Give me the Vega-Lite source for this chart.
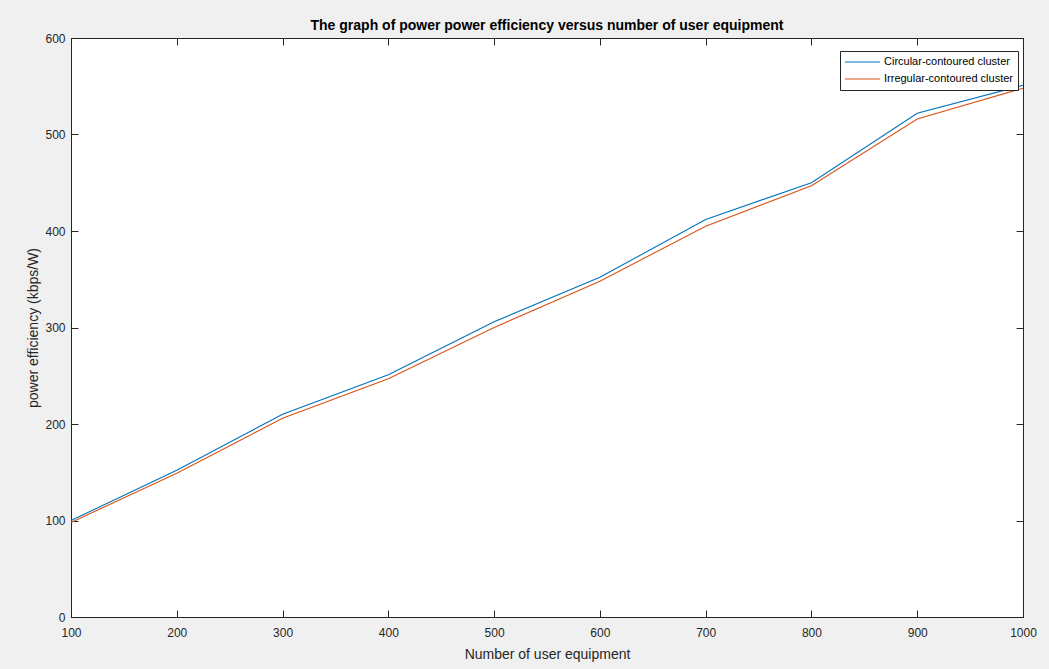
{
  "$schema": "https://vega.github.io/schema/vega-lite/v6.json",
  "autosize": "none",
  "width": 952,
  "height": 579,
  "padding": {"left": 71, "top": 38, "right": 26, "bottom": 52},
  "background": "#f0f0f0",
  "title": {"text": "The graph of power power efficiency versus number of user equipment", "font": "Liberation Sans", "fontSize": 14, "fontWeight": "bold", "color": "#000000", "offset": -1, "anchor": "middle"},
  "config": {
    "view": {"fill": "#ffffff", "stroke": "#262626", "strokeWidth": 1},
    "font": "Liberation Sans",
    "axis": {"grid": false, "domainColor": "#262626", "tickColor": "#262626", "labelColor": "#262626", "titleColor": "#262626", "labelFont": "Liberation Sans", "titleFont": "Liberation Sans", "labelFontSize": 12, "titleFontSize": 14, "titleFontWeight": "normal", "tickSize": -7, "labelPadding": 13}
  },
  "data": {"values": [
    {"ue": 100, "eff": 100, "cluster": "Circular-contoured cluster"},
    {"ue": 200, "eff": 152, "cluster": "Circular-contoured cluster"},
    {"ue": 300, "eff": 210, "cluster": "Circular-contoured cluster"},
    {"ue": 400, "eff": 251, "cluster": "Circular-contoured cluster"},
    {"ue": 500, "eff": 306, "cluster": "Circular-contoured cluster"},
    {"ue": 600, "eff": 352, "cluster": "Circular-contoured cluster"},
    {"ue": 700, "eff": 412, "cluster": "Circular-contoured cluster"},
    {"ue": 800, "eff": 450, "cluster": "Circular-contoured cluster"},
    {"ue": 900, "eff": 522, "cluster": "Circular-contoured cluster"},
    {"ue": 1000, "eff": 551, "cluster": "Circular-contoured cluster"},
    {"ue": 100, "eff": 98, "cluster": "Irregular-contoured cluster"},
    {"ue": 200, "eff": 149, "cluster": "Irregular-contoured cluster"},
    {"ue": 300, "eff": 206, "cluster": "Irregular-contoured cluster"},
    {"ue": 400, "eff": 247, "cluster": "Irregular-contoured cluster"},
    {"ue": 500, "eff": 300, "cluster": "Irregular-contoured cluster"},
    {"ue": 600, "eff": 348, "cluster": "Irregular-contoured cluster"},
    {"ue": 700, "eff": 405, "cluster": "Irregular-contoured cluster"},
    {"ue": 800, "eff": 447, "cluster": "Irregular-contoured cluster"},
    {"ue": 900, "eff": 516, "cluster": "Irregular-contoured cluster"},
    {"ue": 1000, "eff": 548, "cluster": "Irregular-contoured cluster"}
  ]},
  "resolve": {"axis": {"x": "independent", "y": "independent"}},
  "layer": [
    {
      "mark": {"type": "line", "strokeWidth": 1.1},
      "encoding": {
        "x": {"field": "ue", "type": "quantitative", "scale": {"domain": [100, 1000], "nice": false, "zero": false},
              "axis": {"orient": "bottom", "title": "Number of user equipment", "values": [100,200,300,400,500,600,700,800,900,1000], "format": "d", "labelPadding": 17, "titlePadding": 9, "labelFlush": false}},
        "y": {"field": "eff", "type": "quantitative", "scale": {"domain": [0, 600], "nice": false},
              "axis": {"orient": "left", "title": "power efficiency (kbps/W)", "values": [0,100,200,300,400,500,600], "format": "d", "titlePadding": 4, "labelFlush": false}},
        "color": {"field": "cluster", "type": "nominal",
                  "scale": {"domain": ["Circular-contoured cluster", "Irregular-contoured cluster"], "range": ["#0072BD", "#D95319"]},
                  "legend": {"title": null, "orient": "none", "legendX": 769, "legendY": 13, "symbolType": "stroke", "symbolSize": 1225, "symbolStrokeWidth": 1.1, "clipHeight": 14, "labelFontSize": 11, "labelColor": "#000000", "strokeColor": "#262626", "fillColor": "#ffffff", "padding": 4, "rowPadding": 3, "labelOffset": 3, "labelFont": "Liberation Sans"}}
      }
    },
    {
      "mark": {"type": "line", "opacity": 0},
      "encoding": {
        "x": {"field": "ue", "type": "quantitative",
              "axis": {"orient": "top", "title": null, "labels": false, "values": [100,200,300,400,500,600,700,800,900,1000]}},
        "y": {"field": "eff", "type": "quantitative",
              "axis": {"orient": "right", "title": null, "labels": false, "values": [0,100,200,300,400,500,600]}},
        "detail": {"field": "cluster"}
      }
    }
  ]
}
